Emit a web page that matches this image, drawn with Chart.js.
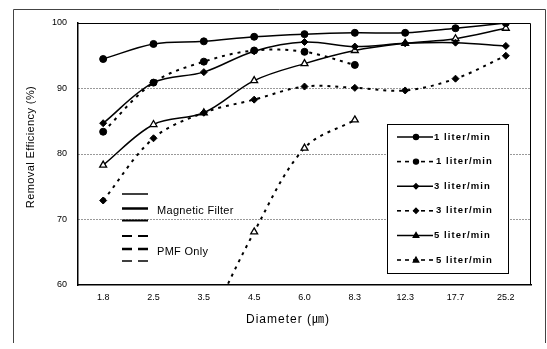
<!DOCTYPE html>
<html>
<head>
<meta charset="utf-8">
<script src="https://cdn.jsdelivr.net/npm/chart.js@4/dist/chart.umd.min.js"></script>
<style>
html,body{margin:0;padding:0;background:#fff;}
canvas{display:block;}
</style>
</head>
<body>
<canvas id="c" width="547" height="349"></canvas>
<script>
// ---- data ----
const categories = ['1.8','2.5','3.5','4.5','6.0','8.3','12.3','17.7','25.2'];
const mf1  = [94.5, 96.8, 97.2, 97.9, 98.3, 98.5, 98.5, 99.2, 100.0];
const pmf1 = [83.4, 90.9, 94.1, 95.8, 95.6, 93.6, null, null, null];
const mf3  = [84.7, 90.9, 92.5, 95.7, 97.1, 96.4, 96.9, 97.0, 96.5];
const pmf3 = [72.9, 82.4, 86.3, 88.3, 90.3, 90.1, 89.7, 91.5, 95.0];
const mf5  = [78.3, 84.5, 86.3, 91.2, 93.8, 95.8, 96.9, 97.6, 99.2];
const pmf5 = [null, null, 52.5, 68.1, 80.9, 85.2, null, null, null];
const seriesLabels = ['1 liter/min','1 liter/min','3 liter/min','3 liter/min','5 liter/min','5 liter/min'];
const yMin = 60, yMax = 100, yStep = 10;
const gridValues = [70, 80, 90];
const xTitle = 'Diameter (\u339B)';
const yTitle = 'Removal Efficiency (%)';
const noteSolid = 'Magnetic Filter';
const noteDashed = 'PMF Only';

const DASH = [3,5];
function ds(label, data, dashed, style, open) {
  return {
    label, data,
    borderColor:'#000', backgroundColor:'#000',
    borderWidth: dashed ? 2 : 1.5,
    borderDash: dashed ? DASH : [],
    pointStyle: style,
    pointRadius: style === 'triangle' ? 4 : 3.5,
    pointBackgroundColor: open ? '#fff' : '#000',
    pointBorderColor:'#000',
    pointBorderWidth: open ? 1.3 : 1,
    tension: 0.35,
    spanGaps:false,
    _dashed: dashed, _open: open
  };
}
const datasets = [
  ds(seriesLabels[0], mf1, false, 'circle', false),
  ds(seriesLabels[1], pmf1, true, 'circle', false),
  ds(seriesLabels[2], mf3, false, 'rectRot', false),
  ds(seriesLabels[3], pmf3, true, 'rectRot', false),
  ds(seriesLabels[4], mf5, false, 'triangle', true),
  ds(seriesLabels[5], pmf5, true, 'triangle', true)
];

function drawMarker(ctx, style, x, y, r, open) {
  ctx.save();
  ctx.setLineDash([]);
  ctx.beginPath();
  if (style === 'circle') ctx.arc(x, y, r, 0, Math.PI*2);
  else if (style === 'rectRot') { ctx.moveTo(x, y-r); ctx.lineTo(x+r, y); ctx.lineTo(x, y+r); ctx.lineTo(x-r, y); ctx.closePath(); }
  else { ctx.moveTo(x, y-r); ctx.lineTo(x+r*0.95, y+r*0.7); ctx.lineTo(x-r*0.95, y+r*0.7); ctx.closePath(); }
  ctx.fillStyle = open ? '#fff' : '#000';
  ctx.fill();
  ctx.lineWidth = 1.2; ctx.strokeStyle = '#000'; ctx.stroke();
  ctx.restore();
}

const decor = {
  id:'decor',
  beforeDraw(chart) {
    const ctx = chart.ctx;
    ctx.save();
    ctx.fillStyle = '#fff'; ctx.fillRect(0,0,chart.width,chart.height);
    ctx.strokeStyle = '#444'; ctx.lineWidth = 1;
    ctx.beginPath();
    ctx.moveTo(13.5, 343); ctx.lineTo(13.5, 9.5); ctx.lineTo(545.5, 9.5); ctx.lineTo(545.5, 343);
    ctx.stroke();
    ctx.restore();
  },
  afterDraw(chart) {
    const ctx = chart.ctx, a = chart.chartArea;
    ctx.save();
    // plot frame top/right
    ctx.strokeStyle = '#000'; ctx.lineWidth = 1;
    ctx.beginPath();
    ctx.moveTo(a.left, a.top+0.5); ctx.lineTo(a.right-0.5, a.top+0.5); ctx.lineTo(a.right-0.5, a.bottom);
    ctx.stroke();
    // axis titles
    ctx.fillStyle = '#000';
    ctx.textAlign = 'center'; ctx.textBaseline = 'middle';
    ctx.font = '12px "Liberation Sans", "Noto Sans CJK KR", sans-serif';
    ctx.letterSpacing = '1px';
    ctx.fillText(xTitle, 288, 320);
    ctx.save();
    ctx.translate(31, 147); ctx.rotate(-Math.PI/2);
    ctx.font = '11px "Liberation Sans", sans-serif';
    ctx.letterSpacing = '0.4px';
    ctx.fillText(yTitle, 0, 0);
    ctx.restore();
    // annotation samples
    ctx.letterSpacing = '0px';
    ctx.strokeStyle = '#000';
    [[194,1.5],[208.5,2.5],[220.5,2]].forEach(([y,w]) => {
      ctx.lineWidth = w; ctx.setLineDash([]);
      ctx.beginPath(); ctx.moveTo(122, y); ctx.lineTo(148, y); ctx.stroke();
    });
    [[236,2],[249,2.5],[261,1.5]].forEach(([y,w]) => {
      ctx.lineWidth = w; ctx.setLineDash([10,6]);
      ctx.beginPath(); ctx.moveTo(122, y); ctx.lineTo(148, y); ctx.stroke();
    });
    ctx.setLineDash([]);
    ctx.textAlign = 'left';
    ctx.font = '11px "Liberation Sans", sans-serif';
    ctx.letterSpacing = '0.3px';
    ctx.fillText(noteSolid, 157, 211);
    ctx.fillText(noteDashed, 157, 252);
    // legend box
    const bx = 387, by = 124, bw = 121, bh = 149;
    ctx.fillStyle = '#fff'; ctx.fillRect(bx, by, bw, bh);
    ctx.strokeStyle = '#000'; ctx.lineWidth = 1;
    ctx.strokeRect(bx+0.5, by+0.5, bw, bh);
    ctx.font = 'bold 9.5px "Liberation Sans", sans-serif';
    ctx.letterSpacing = '1.1px';
    ctx.textBaseline = 'middle';
    chart.data.datasets.forEach((d, i) => {
      const y = 137 + i*24.6;
      ctx.strokeStyle = '#000';
      ctx.lineWidth = d._dashed ? 1.6 : 1.5;
      ctx.setLineDash(d._dashed ? [4,4] : []);
      ctx.beginPath(); ctx.moveTo(397, y); ctx.lineTo(433, y); ctx.stroke();
      drawMarker(ctx, d.pointStyle, 416, y, d.pointStyle === 'triangle' ? 3 : 2.6, false);
      ctx.fillStyle = '#000';
      ctx.fillText(d.label, d._dashed ? 436 : 434, y);
    });
    ctx.restore();
  }
};

new Chart(document.getElementById('c'), {
  type:'line',
  data:{ labels: categories, datasets },
  options:{
    responsive:false, animation:false, devicePixelRatio:1,
    layout:{ padding:{ top:23, right:16, left:0, bottom:0 } },
    plugins:{ legend:{display:false}, tooltip:{enabled:false} },
    scales:{
      x:{
        offset:true,
        grid:{ display:false, drawTicks:false },
        border:{ display:true, color:'#000', width:1.5 },
        ticks:{ color:'#000', font:{ size:9, family:'"Liberation Sans", sans-serif' }, padding:7, maxRotation:0, autoSkip:false },
        afterFit(s){ s.height = 64; }
      },
      y:{
        min:yMin, max:yMax,
        grid:{ drawTicks:false, color:(c) => gridValues.includes(c.tick && c.tick.value) ? '#333' : 'rgba(0,0,0,0)', lineWidth:1 },
        border:{ display:true, color:'#000', width:1.5, dash:[1,2] },
        ticks:{ stepSize:yStep, color:'#000', font:{ size:9, family:'"Liberation Sans", sans-serif' }, padding:11 },
        afterFit(s){ s.width = 78; }
      }
    }
  },
  plugins:[decor]
});
</script>
</body>
</html>
